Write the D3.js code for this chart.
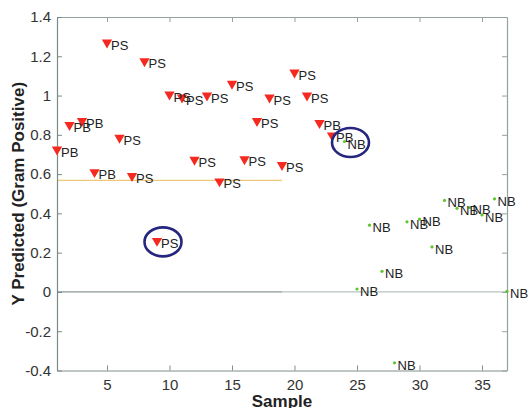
<!DOCTYPE html>
<html>
<head>
<meta charset="utf-8">
<script src="https://cdn.jsdelivr.net/npm/d3@7"></script>
<style>
    body { margin: 0; background: #fff; }
    text { font-family: "Liberation Sans", Arial, sans-serif; }
</style>
</head>
<body>
<div id="chart"></div>
<script>
"use strict";

// Gram positive samples (PS / PB), red triangles
var posSample = [1, 2, 3, 4, 5, 6, 7, 8, 9, 10, 11, 12, 13, 14, 15, 16, 17, 18, 19, 20, 21, 22, 23];
var posValue = [0.725, 0.85, 0.87, 0.61, 1.27, 0.785, 0.59, 1.175, 0.26, 1.005, 0.99, 0.673,
    1.0, 0.563, 1.06, 0.676, 0.87, 0.99, 0.646, 1.117, 1.0, 0.86, 0.797];
var posLabel = ["PB", "PB", "PB", "PB", "PS", "PS", "PS", "PS", "PS", "PS", "PS", "PS",
    "PS", "PS", "PS", "PS", "PS", "PS", "PS", "PS", "PS", "PB", "PB"];

// Gram negative samples (NB), green dots
var negSample = [24, 25, 26, 27, 28, 29, 30, 31, 32, 33, 34, 35, 36, 37];
var negValue = [0.766, 0.015, 0.34, 0.105, -0.361, 0.357, 0.371, 0.229, 0.466, 0.426, 0.43, 0.392, 0.474, 0.003];
var negLabel = "NB";

// reference lines
var posLimit = 0.568;
var posLimitRange = [1, 19];
var zeroLine = 0;

// circled samples
var circledSample = [9, 24];

var xTicks = [5, 10, 15, 20, 25, 30, 35];
var yTicks = [-0.4, -0.2, 0, 0.2, 0.4, 0.6, 0.8, 1, 1.2, 1.4];

var width = 529;
var height = 408;
var plotLeft = 57, plotRight = 507, plotTop = 17, plotBottom = 370.5;

var svg = d3.select("#chart").append("svg")
    .attr("width", width)
    .attr("height", height);

var x = d3.scaleLinear().domain([1, 37]).range([plotLeft, plotRight]);
var y = d3.scaleLinear().domain([-0.4, 1.4]).range([plotBottom, plotTop]);

// reference lines
svg.append("line")
    .attr("x1", x(posLimitRange[0])).attr("x2", x(posLimitRange[1]))
    .attr("y1", y(posLimit)).attr("y2", y(posLimit))
    .attr("stroke", "#ecc878").attr("stroke-width", 1.2);

svg.append("line")
    .attr("x1", x(1)).attr("x2", x(19))
    .attr("y1", y(zeroLine)).attr("y2", y(zeroLine))
    .attr("stroke", "#8a9a94").attr("stroke-width", 1.2);
svg.append("line")
    .attr("x1", x(19)).attr("x2", x(37))
    .attr("y1", y(zeroLine)).attr("y2", y(zeroLine))
    .attr("stroke", "#b8c4c0").attr("stroke-width", 1.2);

// axes box with inward ticks
function addAxis(axis, tx, ty, showLabels, color) {
    var g = svg.append("g")
        .attr("transform", "translate(" + tx + "," + ty + ")")
        .call(axis);
    g.select(".domain").attr("stroke", color).attr("stroke-width", 1.2);
    g.selectAll(".tick line").attr("stroke", color);
    g.selectAll(".tick text")
        .attr("fill", "#333")
        .style("font-size", "15px")
        .style("display", showLabels ? null : "none");
    return g;
}

addAxis(d3.axisBottom(x).tickValues(xTicks).tickSize(-5).tickSizeOuter(0).tickPadding(9)
    .tickFormat(d3.format("d")), 0, plotBottom, true, "#7f8f8a");
addAxis(d3.axisTop(x).tickValues(xTicks).tickSize(-5).tickSizeOuter(0), 0, plotTop, false, "#93a39e");
addAxis(d3.axisLeft(y).tickValues(yTicks).tickSize(-5).tickSizeOuter(0).tickPadding(6)
    .tickFormat(function(d) { return d === 0 ? "0" : String(+d.toFixed(1)); }), plotLeft, 0, true, "#7a8a86");
addAxis(d3.axisRight(y).tickValues(yTicks).tickSize(-5).tickSizeOuter(0), plotRight, 0, false, "#93a39e");

// gram positive markers
var tri = d3.symbol().type(d3.symbolTriangle).size(46);
svg.append("g")
    .selectAll("path")
    .data(posSample)
    .enter()
    .append("path")
    .attr("d", tri)
    .attr("fill", "#f42a22")
    .attr("transform", function(d, i) {
        return "translate(" + x(d) + "," + y(posValue[i]) + ") rotate(180)";
    });

svg.append("g")
    .selectAll("text")
    .data(posSample)
    .enter()
    .append("text")
    .attr("x", function(d) { return x(d) + 4; })
    .attr("y", function(d, i) { return y(posValue[i]) + 7; })
    .attr("fill", "#222")
    .style("font-size", "13px")
    .text(function(d, i) { return posLabel[i]; });

// gram negative markers
svg.append("g")
    .selectAll("circle")
    .data(negSample)
    .enter()
    .append("circle")
    .attr("cx", function(d) { return x(d); })
    .attr("cy", function(d, i) { return y(negValue[i]); })
    .attr("r", 1.6)
    .attr("fill", "#5cc52e");

svg.append("g")
    .selectAll("text")
    .data(negSample)
    .enter()
    .append("text")
    .attr("x", function(d) { return x(d) + 3; })
    .attr("y", function(d, i) { return y(negValue[i]) + 7; })
    .attr("fill", "#222")
    .style("font-size", "13px")
    .text(negLabel);

// highlighted samples
svg.append("g")
    .selectAll("ellipse")
    .data(circledSample)
    .enter()
    .append("ellipse")
    .attr("cx", function(d) { return x(d) + 6; })
    .attr("cy", function(d) {
        var i = posSample.indexOf(d);
        var v = i >= 0 ? posValue[i] : negValue[negSample.indexOf(d)];
        return y(v) + 1;
    })
    .attr("rx", 18.5)
    .attr("ry", 14.5)
    .attr("fill", "none")
    .attr("stroke", "#26267e")
    .attr("stroke-width", 2.6);

// axis titles
svg.append("text")
    .attr("x", (plotLeft + plotRight) / 2)
    .attr("y", 407)
    .attr("text-anchor", "middle")
    .attr("fill", "#222")
    .style("font-size", "17px")
    .style("font-weight", "bold")
    .text("Sample");

svg.append("text")
    .attr("transform", "translate(24," + (plotTop + plotBottom) / 2 + ") rotate(-90)")
    .attr("text-anchor", "middle")
    .attr("fill", "#222")
    .style("font-size", "17px")
    .style("font-weight", "bold")
    .text("Y Predicted (Gram Positive)");
</script>
</body>
</html>
